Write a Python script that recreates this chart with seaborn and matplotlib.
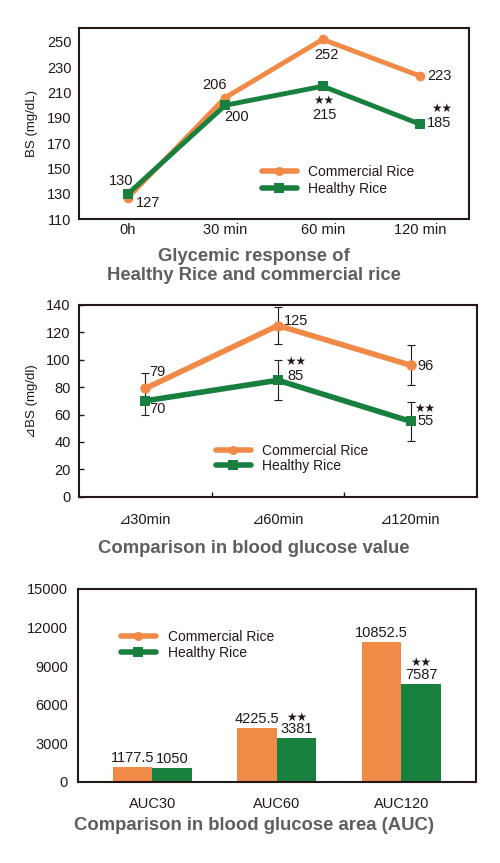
import matplotlib as mpl
mpl.use('Agg')
import matplotlib.pyplot as plt
from matplotlib.lines import Line2D
import pandas as pd
import seaborn as sns
import numpy as np

################## DATA ##################
rice = ['Commercial Rice', 'Healthy Rice']

times = ['0h', '30 min', '60 min', '120 min']
bs_commercial = [127, 206, 252, 223]
bs_healthy = [130, 200, 215, 185]

deltas = ['⊿30min', '⊿60min', '⊿120min']
dbs_commercial = [79, 125, 96]
dbs_healthy = [70, 85, 55]
dbs_err_commercial = [11, 13.5, 14.5]
dbs_err_healthy = [10, 14.5, 14.5]

aucs = ['AUC30', 'AUC60', 'AUC120']
auc_commercial = [1177.5, 4225.5, 10852.5]
auc_healthy = [1050, 3381, 7587]
auc_labels_commercial = ['1177.5', '4225.5', '10852.5']
auc_labels_healthy = ['1050', '3381', '7587']

################## STYLE ##################
sns.set_theme(style='white')
plt.rcParams['font.family'] = ['Liberation Sans', 'DejaVu Sans']
ORANGE = '#F08A46'
GREEN = '#18803F'
INK = '#231815'
GREY = '#5E5E5E'
palette = [ORANGE, GREEN]
PX = 0.72  # points per pixel at dpi 100

fig = plt.figure(figsize=(5, 8.63), dpi=100)
ax1 = fig.add_axes([0.158, 0.7459, 0.78, 0.2217])
ax2 = fig.add_axes([0.158, 0.4245, 0.796, 0.2221])
ax3 = fig.add_axes([0.1554, 0.0939, 0.7966, 0.2236])

def frame(ax):
	for sp in ax.spines.values():
		sp.set_visible(True)
		sp.set_color(INK)
		sp.set_linewidth(1.5)

def legend(ax, x, y, spacing):
	handles = [Line2D([], [], color=c, lw=4, marker=m, markersize=6.5, markeredgewidth=0)
		for c, m in zip(palette, ['o', 's'])]
	ax.legend(handles, rice, loc='upper left', bbox_to_anchor=(x, y), frameon=False,
		borderaxespad=0, borderpad=0, handlelength=2.5, handletextpad=0.85,
		labelspacing=spacing, fontsize=10, labelcolor=INK)

def note(ax, x, y, txt, dx, dy, size=10.5, ha='center'):
	ax.annotate(txt, (x, y), xytext=(dx * PX, dy * PX), textcoords='offset points',
		ha=ha, va='center', fontsize=size, color=INK)

################## PANEL 1 ##################
df1 = pd.DataFrame({
	'pos': list(range(len(times))) * 2,
	'bs': bs_commercial + bs_healthy,
	'rice': [rice[0]] * len(times) + [rice[1]] * len(times)})
sns.lineplot(data=df1, x='pos', y='bs', hue='rice', style='rice', markers=['o', 's'],
	dashes=False, palette=palette, linewidth=3.5, markersize=7, markeredgewidth=0,
	legend=False, ax=ax1)
ax1.set_xlim(-0.5, len(times) - 0.5)
ax1.set_ylim(110, 261)
ax1.set_yticks(range(110, 251, 20))
ax1.set_xticks(range(len(times)))
ax1.set_xticklabels(times)
ax1.tick_params(axis='both', length=0, labelsize=10.5, colors=INK)
ax1.tick_params(axis='y', pad=5.5)
ax1.tick_params(axis='x', pad=3)
ax1.set_xlabel('')
ax1.set_ylabel('')
ax1.text(-0.12, 0.5, 'BS (mg/dL)', transform=ax1.transAxes, rotation=90,
	ha='center', va='center', fontsize=9.5, color=INK)
frame(ax1)

offs1_c = [(20, -5), (-11, 13), (4, -16), (19, 0)]
offs1_h = [(-7, 13), (11, -12), (2, -29), (19, 1)]
for i in range(len(times)):
	note(ax1, i, bs_commercial[i], str(bs_commercial[i]), *offs1_c[i])
	note(ax1, i, bs_healthy[i], str(bs_healthy[i]), *offs1_h[i])
note(ax1, 2, bs_healthy[2], '★★', 1, -15, size=8.5)
note(ax1, 3, bs_healthy[3], '★★', 21, 15, size=8.5)
legend(ax1, 0.469, 0.284, 0.2)

fig.text(0.508, 0.692, 'Glycemic response of\nHealthy Rice and commercial rice',
	ha='center', va='center', fontsize=13.3, fontweight='bold', color=GREY,
	linespacing=1.2)

################## PANEL 2 ##################
df2 = pd.DataFrame({
	'pos': list(range(len(deltas))) * 2,
	'dbs': dbs_commercial + dbs_healthy,
	'rice': [rice[0]] * len(deltas) + [rice[1]] * len(deltas)})
for vals, err in [(dbs_commercial, dbs_err_commercial), (dbs_healthy, dbs_err_healthy)]:
	ax2.errorbar(range(len(deltas)), vals, yerr=err, fmt='none', ecolor=INK,
		elinewidth=0.8, capsize=3, capthick=0.8, zorder=1)
sns.lineplot(data=df2, x='pos', y='dbs', hue='rice', style='rice', markers=['o', 's'],
	dashes=False, palette=palette, linewidth=4, markersize=7.5, markeredgewidth=0,
	legend=False, ax=ax2, zorder=3)
ax2.set_xlim(-0.5, len(deltas) - 0.5)
ax2.set_ylim(0, 140)
ax2.set_yticks(range(0, 141, 20))
ax2.set_xticks(range(len(deltas)))
ax2.set_xticklabels(deltas)
ax2.set_xticks([0.5, 1.5], minor=True)
ax2.tick_params(axis='y', direction='in', length=3.5, width=1, color=INK,
	labelsize=10.5, labelcolor=INK, pad=6, left=True)
ax2.tick_params(axis='x', which='major', length=0, labelsize=10.5, labelcolor=INK, pad=12)
ax2.tick_params(axis='x', which='minor', direction='in', length=3.5, width=1,
	color=INK, bottom=True)
ax2.set_xlabel('')
ax2.set_ylabel('')
ax2.text(-0.118, 0.5, '⊿BS (mg/dl)', transform=ax2.transAxes, rotation=90,
	ha='center', va='center', fontsize=9.5, color=INK)
frame(ax2)

offs2_c = [(12, 16), (18, 5), (15, -1)]
offs2_h = [(12, -8), (17, 4), (15, 0)]
for i in range(len(deltas)):
	note(ax2, i, dbs_commercial[i], str(dbs_commercial[i]), *offs2_c[i])
	note(ax2, i, dbs_healthy[i], str(dbs_healthy[i]), *offs2_h[i])
note(ax2, 1, dbs_healthy[1], '★★', 18, 18, size=8.5)
note(ax2, 2, dbs_healthy[2], '★★', 14, 12, size=8.5)
legend(ax2, 0.344, 0.2765, 0.1)

fig.text(0.508, 0.3647, 'Comparison in blood glucose value',
	ha='center', va='center', fontsize=13.3, fontweight='bold', color=GREY)

################## PANEL 3 ##################
df3 = pd.DataFrame({
	'auc': aucs * 2,
	'value': auc_commercial + auc_healthy,
	'rice': [rice[0]] * len(aucs) + [rice[1]] * len(aucs)})
sns.barplot(data=df3, x='auc', y='value', hue='rice', palette=palette, width=0.635,
	saturation=1, errorbar=None, linewidth=0, legend=False, ax=ax3)
ax3.set_xlim(-0.6, len(aucs) - 0.4)
ax3.set_ylim(0, 15000)
ax3.set_yticks(range(0, 15001, 3000))
ax3.tick_params(axis='both', length=0, labelsize=10.5, colors=INK)
ax3.tick_params(axis='y', pad=7)
ax3.tick_params(axis='x', pad=11)
ax3.set_xlabel('')
ax3.set_ylabel('')
frame(ax3)

half = 0.635 / 4
for i in range(len(aucs)):
	note(ax3, i - half, auc_commercial[i], auc_labels_commercial[i], 0, 9)
	note(ax3, i + half, auc_healthy[i], auc_labels_healthy[i], 0, 9)
for i in [1, 2]:
	note(ax3, i + half, auc_healthy[i], '★★', 0, 21, size=8.5)
legend(ax3, 0.1087, 0.789, 0.15)

fig.text(0.508, 0.044, 'Comparison in blood glucose area (AUC)',
	ha='center', va='center', fontsize=13.3, fontweight='bold', color=GREY)

plt.savefig('out.png', dpi=100)
